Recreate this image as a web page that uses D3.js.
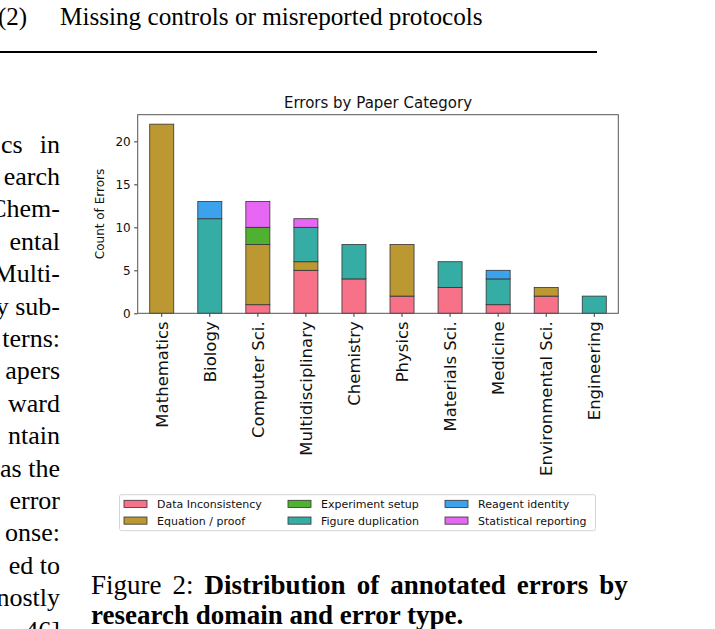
<!DOCTYPE html>
<html>
<head>
<meta charset="utf-8">
<script src="https://cdn.jsdelivr.net/npm/d3@7"></script>
<style>
  html, body { margin: 0; padding: 0; background: #fff; }
  svg { display: block; }
  .serif { font-family: "Liberation Serif", "Times New Roman", serif; fill: #000; }
  .sans { font-family: "DejaVu Sans", sans-serif; }
</style>
</head>
<body>
<svg id="page" width="715" height="629"></svg>
<script>
// ---------------- data ----------------
const categories = ["Mathematics", "Biology", "Computer Sci.", "Multidisciplinary", "Chemistry",
                    "Physics", "Materials Sci.", "Medicine", "Environmental Sci.", "Engineering"];
const errorTypes = ["Data Inconsistency", "Equation / proof", "Experiment setup",
                    "Figure duplication", "Reagent identity", "Statistical reporting"];
const dataInconsistency   = [0, 0, 1, 5, 4, 2, 3, 1, 2, 0];
const equationProof       = [22, 0, 7, 1, 0, 6, 0, 0, 1, 0];
const experimentSetup     = [0, 0, 2, 0, 0, 0, 0, 0, 0, 0];
const figureDuplication   = [0, 11, 0, 4, 4, 0, 3, 3, 0, 2];
const reagentIdentity     = [0, 2, 0, 0, 0, 0, 0, 1, 0, 0];
const statisticalReporting= [0, 0, 3, 1, 0, 0, 0, 0, 0, 0];
const yTicks = [0, 5, 10, 15, 20];
const colors = ["#f77189", "#bb9832", "#50b131", "#36ada4", "#3ba3ec", "#e866f4"];

const seriesValues = [dataInconsistency, equationProof, experimentSetup,
                      figureDuplication, reagentIdentity, statisticalReporting];
const table = categories.map((c, i) => {
  const row = { category: c };
  errorTypes.forEach((t, j) => row[t] = seriesValues[j][i]);
  return row;
});

// page text
const headerNum = "(2)";
const headerText = "Missing controls or misreported protocols";
const leftLines = ["in", "earch", "Chem-", "ental", "Multi-", "y sub-", "terns:", "apers",
                   "ward", "ntain", "as the", "error", "onse:", "ed to", "nostly", "46]"];
const captionLabel = "Figure 2: ";
const captionBold1 = "Distribution of annotated errors by";
const captionBold2 = "research domain and error type.";

const svg = d3.select("#page");

// ---------------- page text ----------------
svg.append("text").attr("class", "serif").attr("x", -2).attr("y", 25)
  .style("font-size", "25px").text(headerNum);
svg.append("text").attr("class", "serif").attr("x", 60).attr("y", 25)
  .style("font-size", "25.2px").text(headerText);
svg.append("rect").attr("x", 0).attr("y", 51).attr("width", 597).attr("height", 2).attr("fill", "#000");

svg.append("text").attr("class", "serif").attr("x", 1).attr("y", 152.5)
  .style("font-size", "26px").text("cs");
leftLines.forEach((t, i) => {
  svg.append("text").attr("class", "serif")
    .attr("x", 60).attr("y", 152.5 + 32.4 * i)
    .attr("text-anchor", "end")
    .style("font-size", "26px").text(t);
});

const cap1 = svg.append("text").attr("class", "serif").attr("x", 91).attr("y", 594)
  .style("font-size", "27px").style("word-spacing", "4.3px");
cap1.append("tspan").text(captionLabel);
cap1.append("tspan").style("font-weight", "bold").text(captionBold1);
svg.append("text").attr("class", "serif").attr("x", 91).attr("y", 624)
  .style("font-size", "27px").style("font-weight", "bold").text(captionBold2);

// ---------------- chart ----------------
const L = 137.7, R = 618.3, T = 114.7, B = 313.3;

const x = d3.scaleBand().domain(categories).range([L, R]).paddingInner(0.5).paddingOuter(0.25);
const y = d3.scaleLinear().domain([0, 23.1]).range([B, T]);

const stack = d3.stack().keys(errorTypes);
const stacked = stack(table);

const g = svg.append("g");
g.selectAll("g.series").data(stacked).join("g")
  .attr("class", "series")
  .attr("fill", (d, i) => colors[i])
  .selectAll("rect").data(d => d.filter(s => s[1] - s[0] > 0)).join("rect")
  .attr("x", d => x(d.data.category))
  .attr("width", x.bandwidth())
  .attr("y", d => y(d[1]))
  .attr("height", d => y(d[0]) - y(d[1]))
  .attr("stroke", "#333")
  .attr("stroke-width", 0.8);

// y axis
const ya = svg.append("g").attr("transform", `translate(${L},0)`)
  .call(d3.axisLeft(y).tickValues(yTicks).tickSize(3.5).tickPadding(3.5));
ya.select(".domain").remove();
ya.selectAll("line").attr("stroke", "#333");
ya.selectAll("text").attr("class", "sans").style("font-size", "12px").attr("fill", "#111");

// x axis
const xa = svg.append("g").attr("transform", `translate(0,${B})`)
  .call(d3.axisBottom(x).tickSize(3.5));
xa.select(".domain").remove();
xa.selectAll("line").attr("stroke", "#333");
xa.selectAll("text")
  .attr("class", "sans")
  .style("font-size", "16.5px")
  .attr("fill", "#111")
  .attr("transform", "rotate(-90)")
  .attr("x", -8)
  .attr("y", 0)
  .attr("dy", "0.35em")
  .style("text-anchor", "end");

// spines
svg.append("rect").attr("x", L).attr("y", T).attr("width", R - L).attr("height", B - T)
  .attr("fill", "none").attr("stroke", "#555").attr("stroke-width", 1);

// axis labels & title
svg.append("text").attr("class", "sans")
  .attr("transform", `translate(104,${(T + B) / 2}) rotate(-90)`)
  .attr("text-anchor", "middle").style("font-size", "12px").attr("fill", "#111")
  .text("Count of Errors");
svg.append("text").attr("class", "sans")
  .attr("x", (L + R) / 2).attr("y", 108)
  .attr("text-anchor", "middle").style("font-size", "15px").attr("fill", "#111")
  .text("Errors by Paper Category");

// legend
const lg = svg.append("g");
lg.append("rect").attr("x", 119.5).attr("y", 494.7).attr("width", 476).attr("height", 36)
  .attr("rx", 2).attr("fill", "#fff").attr("stroke", "#d5d5d5").attr("stroke-width", 1);
const colX = [124, 288, 445];
const rowY = [500.3, 517];
errorTypes.forEach((t, i) => {
  const c = Math.floor(i / 2), r = i % 2;
  lg.append("rect").attr("x", colX[c]).attr("y", rowY[r]).attr("width", 23).attr("height", 7.2)
    .attr("fill", colors[i]).attr("stroke", "#333").attr("stroke-width", 0.8);
  lg.append("text").attr("class", "sans")
    .attr("x", colX[c] + 33).attr("y", rowY[r] + 7.8)
    .style("font-size", "11px").attr("fill", "#111").text(t);
});
</script>
</body>
</html>
